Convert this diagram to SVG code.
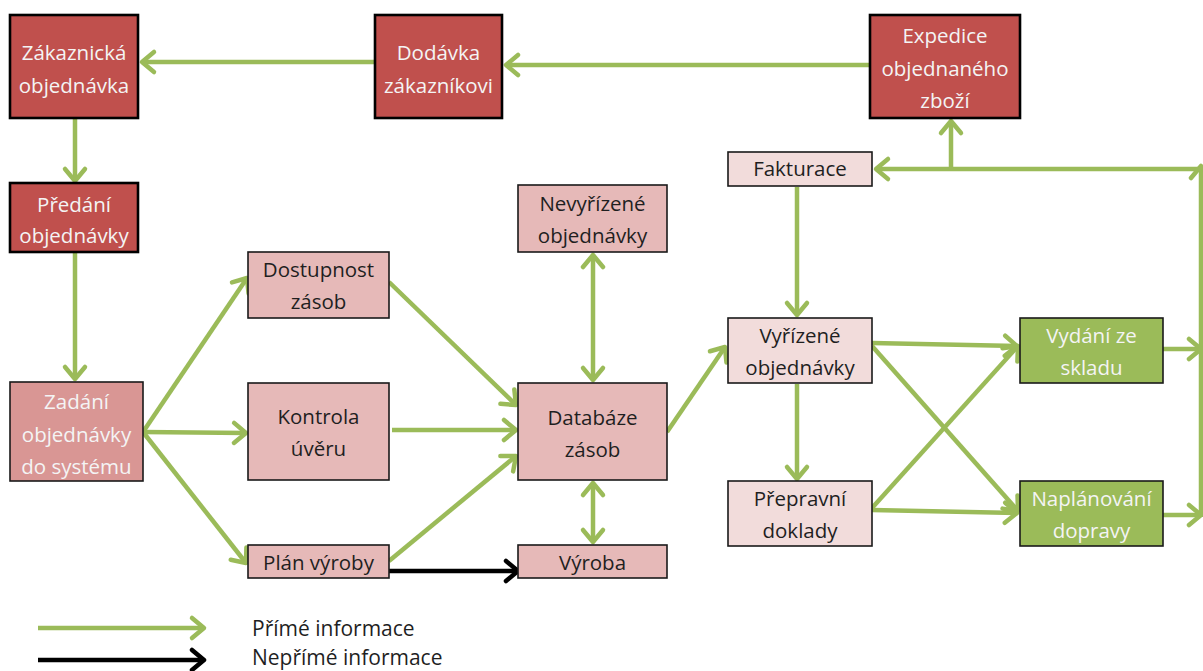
<svg xmlns="http://www.w3.org/2000/svg" width="1203" height="671" viewBox="0 0 1203 671">
  <defs>
    <style>
      .box rect { stroke: #1a1a1a; stroke-width: 1.6; }
      .dark rect { fill: #C0504D; stroke: #000; stroke-width: 2.6; }
      .mid rect { fill: #D99694; }
      .pink rect { fill: #E6B9B8; }
      .light rect { fill: #F2DCDB; }
      .green rect { fill: #9BBB59; }
      text { font-family: "Open Sans", "Liberation Sans", sans-serif; font-size: 20.5px; text-anchor: middle; fill: #1f1f1f; }
      .dark text, .mid text, .green text { fill: #f4f4f4; }
      .legend { text-anchor: start; font-size: 21px; }
      .g { stroke: #9BBB59; stroke-width: 4.5; fill: none; }
      .k { stroke: #000; stroke-width: 4.5; fill: none; }
    </style>
    <marker id="ag" markerUnits="userSpaceOnUse" markerWidth="20" markerHeight="24" refX="14" refY="11" orient="auto-start-reverse" overflow="visible">
      <path d="M2,1 L14,11 L2,21" fill="none" stroke="#9BBB59" stroke-width="4.5" stroke-linecap="round" stroke-linejoin="round"/>
    </marker>
    <marker id="ak" markerUnits="userSpaceOnUse" markerWidth="20" markerHeight="24" refX="14" refY="11" orient="auto" overflow="visible">
      <path d="M2,1 L14,11 L2,21" fill="none" stroke="#000" stroke-width="4.5" stroke-linecap="round" stroke-linejoin="round"/>
    </marker>
  </defs>

  <!-- connectors -->
  <g id="connectors">
    <line class="g" x1="375" y1="62" x2="142" y2="62" marker-end="url(#ag)"/>
    <line class="g" x1="870" y1="65" x2="506" y2="65" marker-end="url(#ag)"/>
    <line class="g" x1="75" y1="119" x2="75" y2="181" marker-end="url(#ag)"/>
    <line class="g" x1="75" y1="253" x2="75" y2="379" marker-end="url(#ag)"/>
    <line class="g" x1="143" y1="432" x2="247" y2="278" marker-end="url(#ag)"/>
    <line class="g" x1="143" y1="432" x2="246" y2="433" marker-end="url(#ag)"/>
    <line class="g" x1="143" y1="432" x2="246" y2="563" marker-end="url(#ag)"/>
    <line class="g" x1="389" y1="282" x2="516" y2="405" marker-end="url(#ag)"/>
    <line class="g" x1="392" y1="430" x2="516" y2="430" marker-end="url(#ag)"/>
    <line class="g" x1="389" y1="561" x2="516" y2="456" marker-end="url(#ag)"/>
    <line class="g" x1="593" y1="255" x2="593" y2="380" marker-start="url(#ag)" marker-end="url(#ag)"/>
    <line class="g" x1="593" y1="483" x2="593" y2="542" marker-start="url(#ag)" marker-end="url(#ag)"/>
    <line class="k" x1="389" y1="571" x2="518" y2="571" marker-end="url(#ak)"/>
    <line class="g" x1="667" y1="432" x2="725" y2="347" marker-end="url(#ag)"/>
    <line class="g" x1="797" y1="187" x2="797" y2="315" marker-end="url(#ag)"/>
    <line class="g" x1="797" y1="384" x2="797" y2="479" marker-end="url(#ag)"/>
    <line class="g" x1="872" y1="343" x2="1017" y2="346" marker-end="url(#ag)"/>
    <line class="g" x1="872" y1="346" x2="1018" y2="511" marker-end="url(#ag)"/>
    <line class="g" x1="872" y1="508" x2="1018" y2="346" marker-end="url(#ag)"/>
    <line class="g" x1="872" y1="510" x2="1017" y2="513" marker-end="url(#ag)"/>
    <line class="g" x1="1163" y1="349" x2="1201" y2="349" marker-end="url(#ag)"/>
    <line class="g" x1="1163" y1="515" x2="1201" y2="515" marker-end="url(#ag)"/>
    <line class="g" x1="1201" y1="517" x2="1201" y2="166" marker-end="url(#ag)"/>
    <line class="g" x1="1201" y1="169" x2="876" y2="169" marker-end="url(#ag)"/>
    <line class="g" x1="951" y1="169" x2="951" y2="121" marker-end="url(#ag)"/>
  </g>

  <!-- nodes -->
  <g id="zakaznicka" class="box dark">
    <rect x="10" y="15" width="128" height="103"/>
    <text x="74" y="60">Zákaznická</text>
    <text x="74" y="93">objednávka</text>
  </g>
  <g id="dodavka" class="box dark">
    <rect x="375" y="15" width="127" height="103"/>
    <text x="438.5" y="60">Dodávka</text>
    <text x="438.5" y="93">zákazníkovi</text>
  </g>
  <g id="expedice" class="box dark">
    <rect x="870" y="15" width="150" height="103"/>
    <text x="945" y="43">Expedice</text>
    <text x="945" y="76">objednaného</text>
    <text x="945" y="108">zboží</text>
  </g>
  <g id="predani" class="box dark">
    <rect x="10" y="183" width="128" height="69"/>
    <text x="74" y="212">Předání</text>
    <text x="74" y="243">objednávky</text>
  </g>
  <g id="zadani" class="box mid">
    <rect x="10" y="382" width="133" height="99"/>
    <text x="76.5" y="409">Zadání</text>
    <text x="76.5" y="442">objednávky</text>
    <text x="76.5" y="474">do systému</text>
  </g>
  <g id="dostupnost" class="box pink">
    <rect x="248" y="252" width="141" height="66"/>
    <text x="318.5" y="277">Dostupnost</text>
    <text x="318.5" y="309">zásob</text>
  </g>
  <g id="kontrola" class="box pink">
    <rect x="248" y="383" width="141" height="97"/>
    <text x="318.5" y="424">Kontrola</text>
    <text x="318.5" y="456">úvěru</text>
  </g>
  <g id="plan" class="box pink">
    <rect x="248" y="545" width="141" height="33"/>
    <text x="318.5" y="570">Plán výroby</text>
  </g>
  <g id="nevyrizene" class="box pink">
    <rect x="518" y="185" width="149" height="67"/>
    <text x="592.5" y="211">Nevyřízené</text>
    <text x="592.5" y="243">objednávky</text>
  </g>
  <g id="databaze" class="box pink">
    <rect x="518" y="383" width="149" height="97"/>
    <text x="592.5" y="425">Databáze</text>
    <text x="592.5" y="457">zásob</text>
  </g>
  <g id="vyroba" class="box pink">
    <rect x="518" y="545" width="149" height="33"/>
    <text x="592.5" y="570">Výroba</text>
  </g>
  <g id="fakturace" class="box light">
    <rect x="728" y="152" width="144" height="34"/>
    <text x="800" y="176">Fakturace</text>
  </g>
  <g id="vyrizene" class="box light">
    <rect x="728" y="318" width="144" height="65"/>
    <text x="800" y="343">Vyřízené</text>
    <text x="800" y="375">objednávky</text>
  </g>
  <g id="prepravni" class="box light">
    <rect x="728" y="481" width="144" height="65"/>
    <text x="800" y="506">Přepravní</text>
    <text x="800" y="538">doklady</text>
  </g>
  <g id="vydani" class="box green">
    <rect x="1020" y="318" width="143" height="65"/>
    <text x="1091.5" y="343">Vydání ze</text>
    <text x="1091.5" y="375">skladu</text>
  </g>
  <g id="naplanovani" class="box green">
    <rect x="1020" y="481" width="143" height="65"/>
    <text x="1091.5" y="506">Naplánování</text>
    <text x="1091.5" y="538">dopravy</text>
  </g>

  <!-- legend -->
  <g id="legend">
    <line class="g" x1="38" y1="628" x2="204" y2="628" marker-end="url(#ag)"/>
    <line class="k" x1="38" y1="660" x2="204" y2="660" marker-end="url(#ak)"/>
    <text class="legend" x="252" y="636">Přímé informace</text>
    <text class="legend" x="252" y="665">Nepřímé informace</text>
  </g>
</svg>
